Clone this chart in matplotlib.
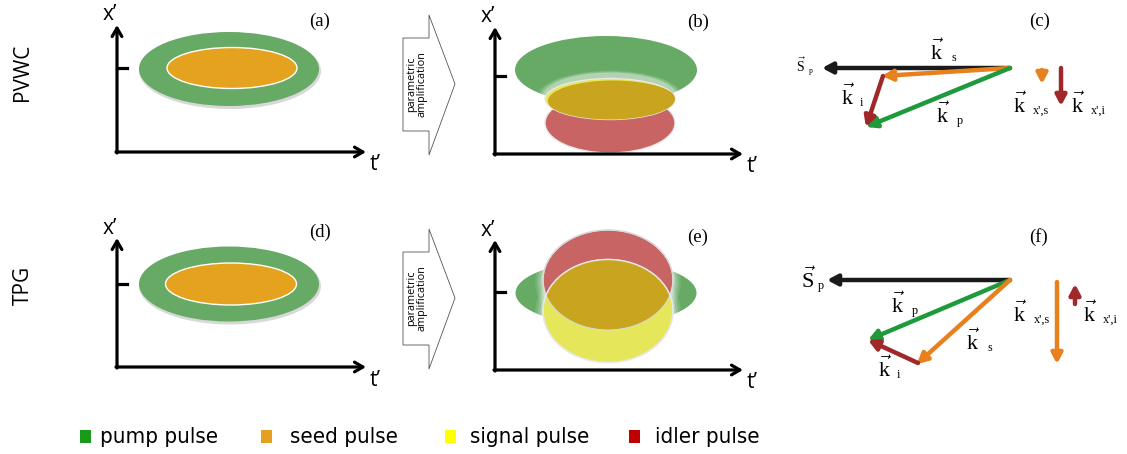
import matplotlib
matplotlib.use("Agg")
import matplotlib.pyplot as plt
from matplotlib.patches import Ellipse, Polygon, Rectangle

plt.rcParams["mathtext.fontset"] = "custom"
plt.rcParams["mathtext.rm"] = "Liberation Serif"
plt.rcParams["mathtext.it"] = "Liberation Serif:italic"

# colours of the pulses
pulse_names = ["pump pulse", "seed pulse", "signal pulse", "idler pulse"]
pulse_colors = ["#1a9a1a", "#e6a020", "#ffff00", "#c00000"]

green = "#66aa66"
orange = "#e5a21f"
red = "#c96464"
yellow = "#e6e65a"
gold = "#c9a41e"

# spacetime panels: origin x, origin y, t-axis end, x'-axis top, tick y
panel_axes = {
    "a": (117, 152, 366, 25, 68),
    "b": (495, 154, 743, 27, 76),
    "d": (117, 367, 366, 238, 284),
    "e": (495, 370, 743, 240, 292),
}

# ellipses: centre x, centre y, width, height
pump_a = (229, 69, 180, 74)
seed_a = (232, 68, 130, 41)
pump_d = (229, 284, 180, 75)
seed_d = (231, 284, 131, 42)

pump_b = (606, 70, 182, 68)
idler_b = (610, 123, 130, 60)
signal_b = (610, 99, 130, 41)

pump_e = (606, 293, 181, 64)
idler_e = (608, 280, 130, 100)
signal_e = (608, 311, 130, 103)

# wave-vector diagrams: (tail, tip, colour)
vectors_c = [
    ((1010, 68), (822, 68), "#1a1a1a"),
    ((1010, 68), (882, 76), "#e8801e"),
    ((1010, 68), (866, 127), "#1e9a3c"),
    ((883, 76), (866, 127), "#a0282a"),
    ((1042, 70), (1042, 84), "#e8801e"),
    ((1061, 68), (1061, 106), "#a0282a"),
]
vectors_f = [
    ((1010, 280), (827, 280), "#1a1a1a"),
    ((1010, 280), (868, 340), "#1e9a3c"),
    ((1010, 280), (917, 364), "#e8801e"),
    ((918, 363), (868, 340), "#a0282a"),
    ((1057, 282), (1057, 364), "#e8801e"),
    ((1075, 304), (1075, 284), "#a0282a"),
]

# vector labels: letter, subscript, x, baseline y, subscript x, size
vec_labels = [
    ("S", "p", 801, 72, 809, 10),
    ("k", "s", 937, 60, 952, 16),
    ("k", "i", 848, 105, 860, 16),
    ("k", "p", 943, 123, 957, 16),
    ("k", "x',s", 1020, 113, 1033, 16),
    ("k", "x',i", 1078, 113, 1091, 16),
    ("S", "p", 808, 288, 818, 16),
    ("k", "p", 898, 313, 912, 16),
    ("k", "s", 973, 350, 987, 16),
    ("k", "i", 885, 377, 897, 16),
    ("k", "x',s", 1020, 322, 1034, 16),
    ("k", "x',i", 1090, 322, 1103, 16),
]

fig = plt.figure(figsize=(11.27, 4.54), dpi=100)
ax = fig.add_axes([0, 0, 1, 1])
ax.set_xlim(0, 1127)
ax.set_ylim(454, 0)
ax.axis("off")


def ell(p, color, z, **kw):
    e = Ellipse((p[0], p[1]), p[2], p[3], facecolor=color, zorder=z, **kw)
    ax.add_patch(e)
    return e


def glow(p, z):
    for s, a in [(1.12, 0.12), (1.08, 0.18), (1.04, 0.3)]:
        ax.add_patch(Ellipse((p[0], p[1] + 2), p[2] * s, p[3] * s,
                             facecolor="white", edgecolor="none", alpha=a, zorder=z))


def draw_axes(key):
    x0, y0, x1, ytop, ytick = panel_axes[key]
    ax.annotate("", xy=(x1, y0), xytext=(x0 - 1, y0),
                arrowprops=dict(arrowstyle="->,head_length=0.6,head_width=0.35", lw=2.3,
                                color="black", shrinkA=0, shrinkB=0), zorder=8)
    ax.annotate("", xy=(x0, ytop), xytext=(x0, y0 + 1),
                arrowprops=dict(arrowstyle="->,head_length=0.6,head_width=0.35", lw=2.3,
                                color="black", shrinkA=0, shrinkB=0), zorder=8)
    ax.plot([x0, x0 + 10], [ytick, ytick], color="black", lw=2.3, zorder=8)
    ax.text(x0 - 7, ytop - 10, "x\u2019", fontsize=15, ha="center", va="center",
            family="Open Sans", zorder=9)
    ax.text(x1 + 9, y0 + 13, "t\u2019", fontsize=15, ha="center", va="center",
            family="Open Sans", zorder=9)


for k in panel_axes:
    draw_axes(k)

# (a) and (d)
for pump, seed in [(pump_a, seed_a), (pump_d, seed_d)]:
    ell((pump[0] + 1, pump[1] + 2, pump[2] + 2, pump[3] + 2), "#d8d8d8", 1, edgecolor="none")
    ell(pump, green, 2, edgecolor="none")
    ell(seed, orange, 3, edgecolor="white", lw=1.0)

# (b)
ell(pump_b, green, 2, edgecolor="none")
glow(idler_b, 3)
glow((signal_b[0], signal_b[1] - 4, signal_b[2], signal_b[3] + 6), 3)
ell(idler_b, red, 4, edgecolor="#e8e8e8", lw=1.0)
ell(signal_b, yellow, 5, edgecolor="#e8e8e8", lw=1.0)
clip_b = ell(signal_b, "none", 5, edgecolor="none")
g = ell((signal_b[0] + 3, signal_b[1] + 2, signal_b[2], signal_b[3]), gold, 6, edgecolor="none")
g.set_clip_path(clip_b)

# (e)
ell(pump_e, green, 2, edgecolor="none")
glow(idler_e, 3)
glow(signal_e, 3)
red_e = ell(idler_e, red, 4, edgecolor="#e8e8e8", lw=1.0)
ell(signal_e, yellow, 5, edgecolor="#e8e8e8", lw=1.0)
ov = ell(signal_e, gold, 6, edgecolor="none")
ov.set_clip_path(red_e)
ell(idler_e, "none", 7, edgecolor="#d8d8d8", lw=0.8)
ell(signal_e, "none", 7, edgecolor="#e8e8e8", lw=1.0)

# "parametric amplification" block arrows
for yc in [84, 298]:
    pts = [(403, yc - 46), (429, yc - 46), (429, yc - 69), (455, yc),
           (429, yc + 71), (429, yc + 47), (403, yc + 47)]
    ax.add_patch(Polygon(pts, closed=True, facecolor="white", edgecolor="#555555",
                         lw=0.6, zorder=2))
    ax.text(417, yc, "parametric\namplification", rotation=90, fontsize=7.8,
            ha="center", va="center", family="Open Sans", linespacing=1.0, zorder=3)

# panel letters
for lab, x, y in [("(a)", 320, 21), ("(b)", 698, 22), ("(c)", 1040, 21),
                  ("(d)", 320, 232), ("(e)", 698, 237), ("(f)", 1038, 237)]:
    ax.text(x, y, lab, fontsize=13.5, family="Liberation Serif", ha="center", va="center")

ax.text(23, 72, "PVWC", rotation=90, fontsize=15, family="Open Sans", ha="center", va="center")
ax.text(23, 285, "TPG", rotation=90, fontsize=15, family="Open Sans", ha="center", va="center")

# wave vectors
for vecs in [vectors_c, vectors_f]:
    for tail, tip, col in vecs:
        ax.annotate("", xy=tip, xytext=tail,
                    arrowprops=dict(arrowstyle="-|>,head_length=0.6,head_width=0.32",
                                    lw=3.2, color=col, shrinkA=0, shrinkB=0,
                                    capstyle="round"), zorder=5)

for letter, sub, x, y, xs, fs in vec_labels:
    ax.text(x, y, r"$\vec{\mathrm{%s}}$" % letter, fontsize=fs, ha="center", va="baseline")
    ax.text(xs, y + 1, sub, fontsize=fs * 0.55, family="Liberation Serif",
            ha="left", va="baseline")

# legend
legend_x = [80, 261, 445, 629]
legend_tx = [100, 290, 470, 655]
for name, col, x, tx in zip(pulse_names, pulse_colors, legend_x, legend_tx):
    ax.add_patch(Rectangle((x, 430), 11, 13, facecolor=col, edgecolor="none"))
    ax.text(tx, 437, name, fontsize=16, family="DejaVu Sans", fontstretch="condensed",
            ha="left", va="center")

fig.savefig("out.png", dpi=100)
